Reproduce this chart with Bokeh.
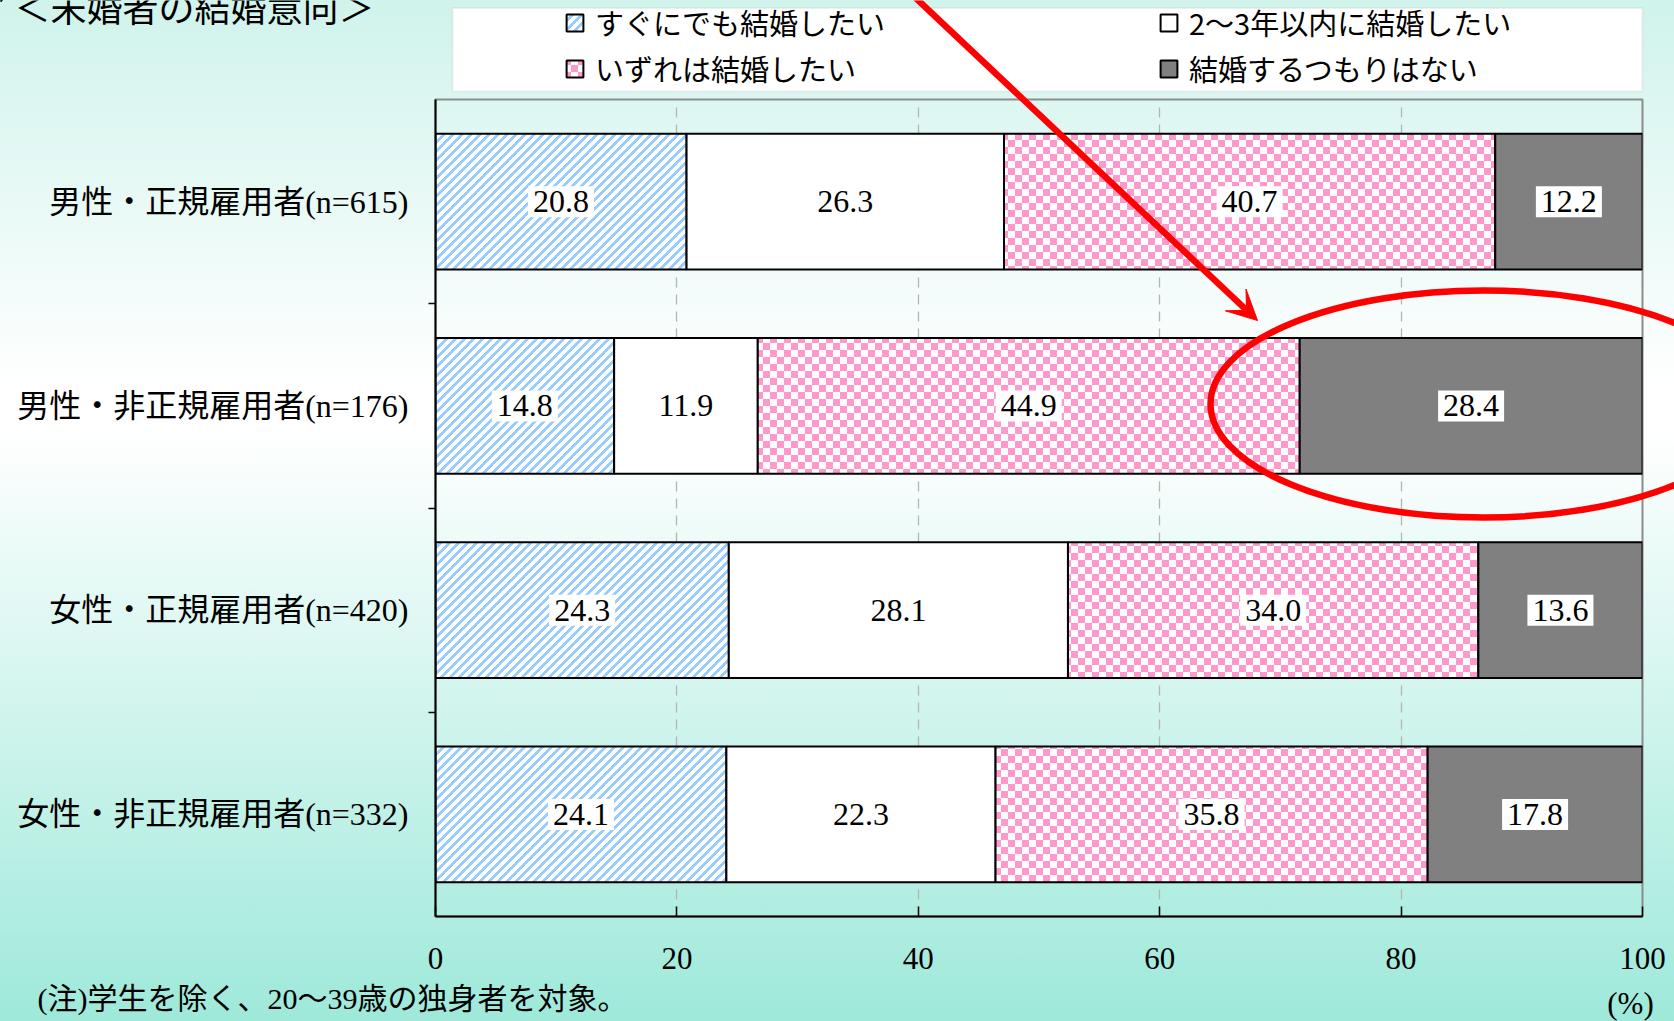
import base64
import struct
import zlib
from bokeh.plotting import figure
from bokeh.models import (ColumnDataSource, FactorRange, Range1d, LinearAxis, CategoricalAxis,
                          FixedTicker, Legend, LegendItem, Label, Arrow, VeeHead,
                          BoxAnnotation, ImageURLTexture)
from bokeh.core.properties import value
from bokeh.embed import file_html
from bokeh.resources import INLINE

# ---------------- data ----------------
title_text = "＜未婚者の結婚意向＞"
note_text = "(注)学生を除く、20〜39歳の独身者を対象。"
unit_text = "(%)"
categories = ["男性・正規雇用者(n=615)", "男性・非正規雇用者(n=176)",
              "女性・正規雇用者(n=420)", "女性・非正規雇用者(n=332)"]
series_names = ["すぐにでも結婚したい", "2〜3年以内に結婚したい",
                "いずれは結婚したい", "結婚するつもりはない"]
soon = [20.8, 14.8, 24.3, 24.1]
within_2_3 = [26.3, 11.9, 28.1, 22.3]
someday = [40.7, 44.9, 34.0, 35.8]
never = [12.2, 28.4, 13.6, 17.8]
x_ticks = [0, 20, 40, 60, 80, 100]

# ---------------- styles ----------------
W, H = 1674, 1021
FL, FR, FT, FB = 435, 1642, 99, 916
SERIF_JP = "'Liberation Serif', 'Noto Sans CJK JP'"
SANS_JP = "'Noto Sans CJK JP'"


def png_url(w, h, pick):
    rows = b"".join(b"\x00" + bytes(c for x in range(w) for c in pick(x, y)) for y in range(h))

    def chunk(t, d):
        return struct.pack(">I", len(d)) + t + d + struct.pack(">I", zlib.crc32(t + d) & 0xffffffff)
    png = (b"\x89PNG\r\n\x1a\n" + chunk(b"IHDR", struct.pack(">IIBBBBB", w, h, 8, 2, 0, 0, 0))
           + chunk(b"IDAT", zlib.compress(rows)) + chunk(b"IEND", b""))
    return "data:image/png;base64," + base64.b64encode(png).decode()


BLUE, PINK, WHITE = (153, 204, 255), (255, 153, 204), (255, 255, 255)
stripe_tile = png_url(9, 9, lambda x, y: BLUE if (x + y) % 9 < 4 else WHITE)
checker_tile = png_url(14, 14, lambda x, y: PINK if (x // 7 + y // 7) % 2 == 0 else WHITE)
textures = {"stripes": ImageURLTexture(url=stripe_tile, repetition="repeat"),
            "checker": ImageURLTexture(url=checker_tile, repetition="repeat")}
fills = ["white", "white", "white", "#808080"]
patterns = [value("stripes"), " ", value("checker"), " "]

# ---------------- main chart ----------------
p = figure(width=W, height=H, title=None,
           x_range=Range1d(0, 100),
           y_range=FactorRange(factors=list(reversed(categories))),
           y_axis_location=None, output_backend="svg", toolbar_location=None,
           min_border_left=FL, min_border_right=W - FR,
           min_border_top=FT, min_border_bottom=H - FB,
           background_fill_color=None, border_fill_color=None,
           outline_line_color="#8c8c8c", outline_line_width=2)
p.styles = {"background": "linear-gradient(180deg, #d0f3ec 0%, #ffffff 38%, #ffffff 42%, #9ee9da 100%)"}

xa = p.xaxis[0]
xa.ticker = FixedTicker(ticks=x_ticks)
xa.major_tick_in = 10
xa.major_tick_out = 0
xa.minor_tick_line_color = None
xa.axis_line_color = "black"
xa.axis_line_width = 2
xa.major_tick_line_color = "black"
xa.major_tick_line_width = 1.5
xa.major_label_text_font = "Liberation Serif"
xa.major_label_text_font_size = "31px"
xa.major_label_text_color = "black"
xa.major_label_standoff = 31
p.xgrid.ticker = FixedTicker(ticks=x_ticks[1:-1])
p.xgrid.grid_line_color = "#b4b4b4"
p.xgrid.grid_line_dash = "10 7"
p.xgrid.grid_line_width = 1.3
p.ygrid.visible = False

tick_axis = LinearAxis(ticker=FixedTicker(ticks=[1, 2, 3]),
                       major_label_overrides={1: "", 2: "", 3: ""},
                       major_tick_in=0, major_tick_out=7,
                       major_tick_line_color="black", major_tick_line_width=1.5,
                       minor_tick_line_color=None, axis_line_color="black",
                       axis_line_width=2, major_label_standoff=0,
                       major_label_text_font_size="1px")
p.add_layout(tick_axis, "left")
cat_axis = CategoricalAxis(axis_line_color=None, major_tick_line_color=None,
                           major_tick_out=0, major_tick_in=0,
                           minor_tick_line_color=None, major_label_standoff=20,
                           major_label_text_font=SERIF_JP,
                           major_label_text_font_size="32px",
                           major_label_text_color="black")
p.add_layout(cat_axis, "left")

src = ColumnDataSource(dict(cat=categories, soon=soon, within=within_2_3,
                            someday=someday, never=never))
renderers = p.hbar_stack(["soon", "within", "someday", "never"], y="cat", height=0.664,
                         source=src, fill_color=fills, hatch_pattern=patterns,
                         hatch_extra=textures, line_color="black", line_width=2)

lab_x, lab_y, lab_t = [], [], []
for i, c in enumerate(categories):
    left = 0.0
    for vals in (soon, within_2_3, someday, never):
        v = vals[i]
        lab_x.append(left + v / 2.0)
        lab_y.append(c)
        lab_t.append(f"{v:.1f}")
        left += v
lsrc = ColumnDataSource(dict(x=lab_x, y=lab_y, t=lab_t))
p.text(x="x", y="y", text="t", source=lsrc, text_font=value("Liberation Serif"),
       text_font_size="32px", text_color="black", text_align="center",
       text_baseline="middle", background_fill_color="white", padding=5)

# ---------------- overlay (page-level texts, legend, arrow, ellipse) ----------------
p2 = figure(width=W, height=H, title=None, x_range=Range1d(0, W), y_range=Range1d(H, 0),
            x_axis_location=None, y_axis_location=None, output_backend="svg",
            toolbar_location=None, min_border=0, background_fill_color=None,
            border_fill_color=None, outline_line_color=None)
p2.grid.visible = False
p2.styles = {"position": "absolute", "top": "0px", "left": "0px"}

p2.add_layout(BoxAnnotation(left=452, right=1642, top=7.5, bottom=91,
                            fill_color="white", fill_alpha=1.0,
                            line_color="#c8c8c8", line_width=2))
# legend proxies (one off-canvas row each, only used for the legend swatches)
proxy_src = ColumnDataSource(dict(y=[-500], left=[0], right=[1]))
proxies = [p2.hbar(y="y", left="left", right="right", height=1, source=proxy_src,
                   fill_color=f, hatch_pattern=pt, hatch_extra=textures,
                   line_color="black", line_width=2)
           for f, pt in zip(fills, patterns)]
legend = Legend(items=[LegendItem(label=s, renderers=[r]) for s, r in zip(series_names, proxies)],
                orientation="horizontal", ncols=2,
                location=(564, H - 89), padding=0, margin=0, spacing=4,
                glyph_width=21, glyph_height=21, label_standoff=10,
                label_width=559, label_height=38,
                label_text_font=SANS_JP, label_text_font_size="29px",
                label_text_color="black",
                background_fill_alpha=0, border_line_color=None)
p2.add_layout(legend, "center")

p2.add_layout(Label(x=14, y=5, text=title_text, text_font=SANS_JP,
                    text_font_size="36px", text_baseline="middle", text_align="left",
                    text_color="black"))
p2.add_layout(Label(x=37, y=998, text=note_text, text_font=SERIF_JP,
                    text_font_size="30px", text_baseline="middle", text_align="left",
                    text_color="black"))
p2.add_layout(Label(x=1630, y=1003, text=unit_text, text_font="Liberation Serif",
                    text_font_size="31px", text_baseline="middle", text_align="center",
                    text_color="black"))

p2.add_layout(Arrow(end=VeeHead(size=30, fill_color="red", line_color="red", line_width=1),
                    x_start=903, y_start=-14, x_end=1257, y_end=320,
                    line_color="red", line_width=6.5))
p2.ellipse(x=[1483], y=[403.5], width=[546], height=[227], fill_color=None,
           line_color="red", line_width=6.5)

open("out.html", "w", encoding="utf-8").write(file_html([p, p2], INLINE))
